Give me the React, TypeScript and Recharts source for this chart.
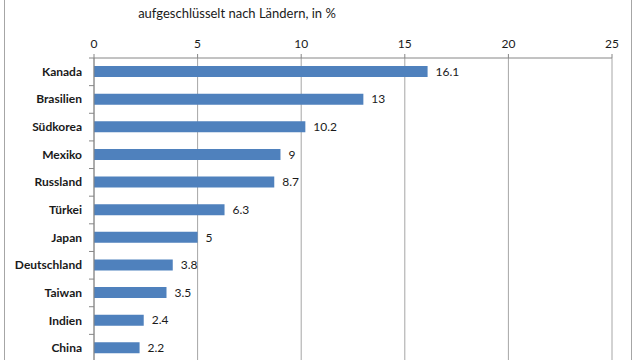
import { BarChart, Bar, XAxis, YAxis, CartesianGrid, LabelList } from "recharts";

const countries = [
  "Kanada",
  "Brasilien",
  "Südkorea",
  "Mexiko",
  "Russland",
  "Türkei",
  "Japan",
  "Deutschland",
  "Taiwan",
  "Indien",
  "China",
];
const shares = [16.1, 13, 10.2, 9, 8.7, 6.3, 5, 3.8, 3.5, 2.4, 2.2];
const xTicks = [0, 5, 10, 15, 20, 25];

const data = countries.map((name, i) => ({ name, value: shares[i] }));

const FONT = "Lato, 'Open Sans', sans-serif";
const BAND = (362 - 58) / countries.length;

function CountryTick(props: any) {
  const { x, y, payload } = props;
  return (
    <g>
      <line x1={x + 3} x2={x + 8} y1={y - BAND / 2} y2={y - BAND / 2} stroke="#868686" />
      <text
        x={x - 4}
        y={y}
        dy={4}
        textAnchor="end"
        fontSize={12}
        fontWeight={700}
        fill="#1a1a1a"
        fontFamily={FONT}
      >
        {payload.value}
      </text>
    </g>
  );
}

export default function App() {
  return (
    <div style={{ position: "absolute", left: 0, top: 0, width: 640, height: 360, overflow: "hidden", background: "#fff" }}>
      {/* chart frame */}
      <div
        style={{
          position: "absolute",
          left: 4,
          top: -10,
          width: 628,
          height: 400,
          border: "1px solid #a6a6a6",
          boxSizing: "border-box",
        }}
      />
      <div
        style={{
          position: "absolute",
          left: 0,
          width: 474,
          top: 5,
          textAlign: "center",
          fontFamily: FONT,
          fontSize: 13,
          color: "#1a1a1a",
        }}
      >
        aufgeschlüsselt nach Ländern, in %
      </div>
      <div style={{ position: "absolute", left: 0, top: 0 }}>
        <BarChart
          width={640}
          height={370}
          data={data}
          layout="vertical"
          margin={{ top: 28, right: 28, left: 0, bottom: 8 }}
          barSize={11}
        >
          <CartesianGrid horizontal={false} stroke="#a6a6a6" />
          <XAxis
            type="number"
            orientation="top"
            domain={[0, 25]}
            ticks={xTicks}
            interval={0}
            height={30}
            stroke="#868686"
            tickSize={4}
            tickMargin={6}
            tick={{ fontSize: 12, fill: "#1a1a1a", fontFamily: FONT }}
          />
          <YAxis
            type="category"
            dataKey="name"
            width={94}
            stroke="#868686"
            tickLine={false}
            tick={<CountryTick />}
            interval={0}
          />
          <Bar dataKey="value" fill="#4F81BD" isAnimationActive={false}>
            <LabelList
              dataKey="value"
              position="right"
              offset={8}
              style={{ fontSize: 12, fill: "#1a1a1a", fontFamily: FONT }}
            />
          </Bar>
        </BarChart>
      </div>
    </div>
  );
}
